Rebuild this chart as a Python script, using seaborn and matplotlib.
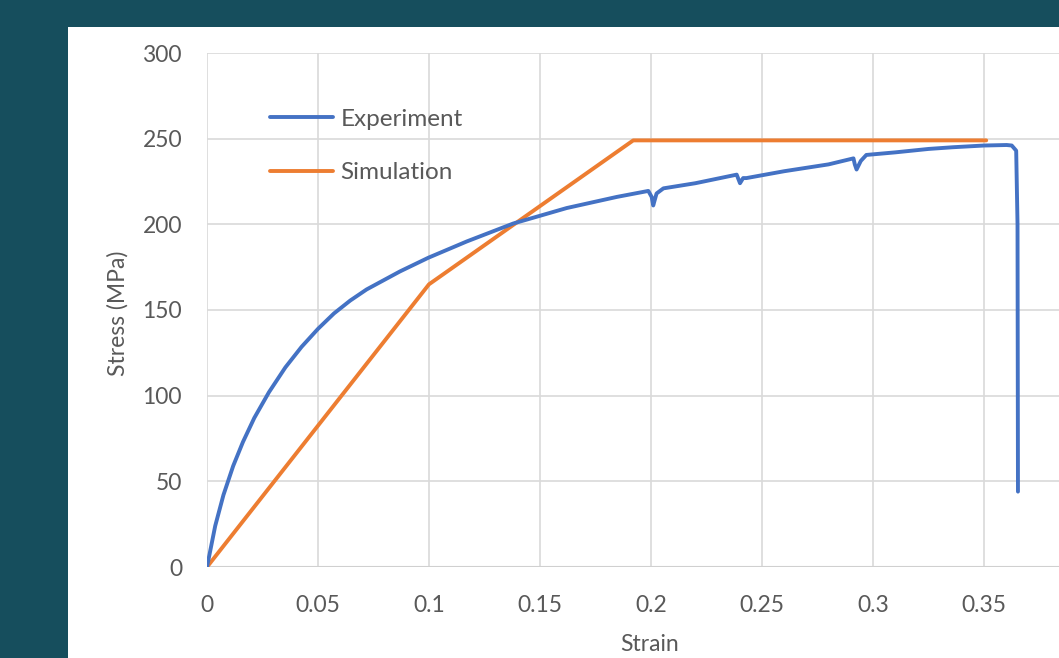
import numpy as np
import pandas as pd
import matplotlib
matplotlib.use('Agg')
import matplotlib.pyplot as plt
from matplotlib.patches import Rectangle
import seaborn as sns

# values
exp_strain = [0, 0.0037, 0.0074, 0.0118, 0.0162, 0.0213, 0.0279, 0.0353,
              0.0426, 0.05, 0.0572, 0.0645, 0.0719, 0.0869, 0.0997, 0.117, 0.138,
              0.162, 0.1846, 0.1988, 0.2003, 0.201, 0.2025, 0.2056, 0.22, 0.2386,
              0.2395, 0.2401, 0.2415, 0.243, 0.26, 0.28, 0.2912, 0.2918, 0.2926,
              0.2945, 0.297, 0.31, 0.325, 0.336, 0.35, 0.3602, 0.3625, 0.3645,
              0.3651, 0.3653]
exp_stress = [0, 24, 42, 59, 73, 87, 102, 116.5,
              128.5, 139, 148, 155.5, 162, 172.5, 180.5, 190, 200.5,
              209.5, 216, 219.5, 216, 211, 218, 221, 224, 229,
              226, 224, 227, 227, 231, 235, 238.5, 235, 232,
              237, 240.5, 242, 244, 245, 246, 246.3, 246, 243,
              200, 44]

sim_strain = [0, 0.1, 0.192, 0.351]
sim_stress = [0, 165, 249, 249]

x_ticks = [0, 0.05, 0.1, 0.15, 0.2, 0.25, 0.3, 0.35]
x_ticklabels = ['0', '0.05', '0.1', '0.15', '0.2', '0.25', '0.3', '0.35']
y_ticks = [0, 50, 100, 150, 200, 250, 300]

exp = pd.DataFrame({'strain': exp_strain, 'stress': exp_stress})
sim = pd.DataFrame({'strain': sim_strain, 'stress': sim_stress})

sns.set_style('white')
plt.rcParams['font.family'] = ['Lato', 'DejaVu Sans']

fig = plt.figure(figsize=(10.59, 6.58), dpi=100)
fig.patch.set_facecolor('#164e5d')
# white card behind the chart
fig.add_artist(Rectangle((68 / 1059, 0), 1 - 68 / 1059, 631 / 658,
                         transform=fig.transFigure, facecolor='white',
                         edgecolor='none', zorder=-5))

ax = fig.add_axes([207 / 1059, 91 / 658, 852 / 1059, 514 / 658])
ax.set_facecolor('none')
ax.set_zorder(1)

sns.lineplot(data=exp, x='strain', y='stress', sort=False, estimator=None,
             color='#4472c4', lw=2.8, label='Experiment', ax=ax, zorder=3)
sns.lineplot(data=sim, x='strain', y='stress', sort=False, estimator=None,
             color='#ed7d31', lw=2.8, label='Simulation', ax=ax, zorder=2)

ax.set_xlim(0, 852 / 2220)
ax.set_ylim(0, 300)
ax.set_xticks(x_ticks)
ax.set_xticklabels(x_ticklabels)
ax.set_yticks(y_ticks)
ax.grid(True, color='#d9d9d9', lw=1.2)
ax.set_axisbelow(True)
sns.despine(ax=ax, left=True, bottom=True)
ax.axhline(0, color='#d0d0d0', lw=1.5, zorder=1)

ax.tick_params(axis='both', length=0, labelsize=16.5, labelcolor='#595959')
ax.tick_params(axis='x', pad=20)
ax.tick_params(axis='y', pad=18)

ax.set_xlabel('Strain', fontsize=16.5, color='#595959')
ax.set_ylabel('Stress (MPa)', fontsize=16.5, color='#595959')
ax.xaxis.set_label_coords(0.52, -0.131)
ax.yaxis.set_label_coords(-0.092, 0.494)

leg = ax.legend(loc='upper left', bbox_to_anchor=(0.074, 0.892), frameon=False,
                fontsize=17.5, handlelength=2.6, handletextpad=0.3,
                labelspacing=1.35, borderpad=0, borderaxespad=0)
for t in leg.get_texts():
    t.set_color('#595959')

fig.savefig('out.png', dpi=100, facecolor=fig.get_facecolor())
